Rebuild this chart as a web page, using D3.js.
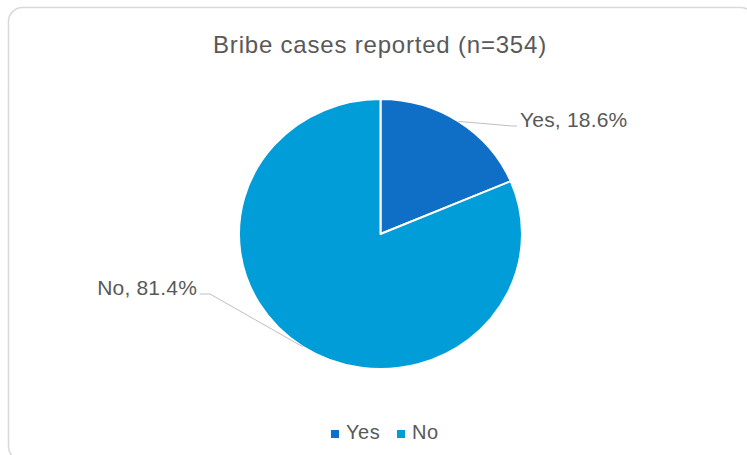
<!DOCTYPE html>
<meta charset="utf-8">
<html>
    <head>
        <style>
            html, body {
                margin: 0;
                padding: 0;
                background: #fff;
            }

            text {
                font-family: "Liberation Sans", Arial, sans-serif;
                fill: #595959;
            }

            .frame {
                fill: #fff;
                stroke: #d9d9d9;
                stroke-width: 1.5;
            }

            .leader {
                fill: none;
                stroke: #bfbfbf;
                stroke-width: 1;
            }
        </style>
    </head>
    <body>
        <svg width="747" height="455"></svg>

        <script src="https://cdn.jsdelivr.net/npm/d3@7"></script>
        <script>
            var categories = ['Yes', 'No'],
                shares = [18.6, 81.4],
                colours = ['#0f6fc6', '#009dd9'],
                title = 'Bribe cases reported (n=354)';

            var svg = d3.select('svg'),
                width = +svg.attr('width'),
                height = +svg.attr('height');

            svg.append('rect')
                .classed('frame', true)
                .attr('x', 8.5)
                .attr('y', 7.5)
                .attr('width', 746)
                .attr('height', 453)
                .attr('rx', 14);

            svg.append('text')
                .attr('x', 380)
                .attr('y', 53)
                .attr('text-anchor', 'middle')
                .style('font-size', '24px')
                .style('letter-spacing', '0.8px')
                .text(title);

            var cx = 380.5,
                cy = 234,
                radius = 141.5,
                squash = 135 / 141.5;

            var data = categories.map(function (c, i) {
                return { name: c, value: shares[i] };
            });

            var color = d3.scaleOrdinal()
                .domain(categories)
                .range(colours);

            var pie = d3.pie()
                .sort(null)
                .value(function (d) { return d.value; });

            var arc = d3.arc()
                .innerRadius(0)
                .outerRadius(radius);

            var arcs = pie(data);

            var g = svg.append('g')
                .attr('transform', 'translate(' + cx + ',' + cy + ') scale(1,' + squash + ')');

            g.selectAll('path')
                .data(arcs)
                .enter()
                    .append('path')
                    .attr('d', arc)
                    .attr('fill', function (d) { return color(d.data.name); })
                    .attr('stroke', '#fff')
                    .attr('stroke-width', 2)
                    .attr('stroke-linejoin', 'round')
                    .attr('vector-effect', 'non-scaling-stroke');

            // leader lines + labels, placed like excel does
            var labelPos = {
                Yes: { x: 520, y: 127, anchor: 'start', elbow: [512, 126], end: [517, 126] },
                No: { x: 197, y: 295, anchor: 'end', elbow: [210, 294], end: [200, 294] }
            };

            arcs.forEach(function (d) {
                var mid = (d.startAngle + d.endAngle) / 2,
                    px = cx + radius * Math.sin(mid),
                    py = cy - radius * squash * Math.cos(mid),
                    lp = labelPos[d.data.name];

                svg.append('path')
                    .classed('leader', true)
                    .attr('d', d3.line()([[px, py], lp.elbow, lp.end]));

                svg.append('text')
                    .attr('x', lp.x)
                    .attr('y', lp.y)
                    .attr('text-anchor', lp.anchor)
                    .style('font-size', '21px')
                    .style('letter-spacing', '0.2px')
                    .text(d.data.name + ', ' + d3.format('.1f')(d.data.value) + '%');
            });

            // legend
            var legendX = [331, 397];
            var legend = svg.selectAll('.legend')
                .data(categories)
                .enter()
                    .append('g')
                    .classed('legend', true)
                    .attr('transform', function (d, i) { return 'translate(' + legendX[i] + ',430)'; });

            legend.append('rect')
                .attr('width', 8)
                .attr('height', 8)
                .attr('fill', function (d) { return color(d); });

            legend.append('text')
                .attr('x', 15)
                .attr('y', 9)
                .style('font-size', '20px')
                .style('letter-spacing', '0.5px')
                .text(function (d) { return d; });
        </script>
    </body>
</html>
